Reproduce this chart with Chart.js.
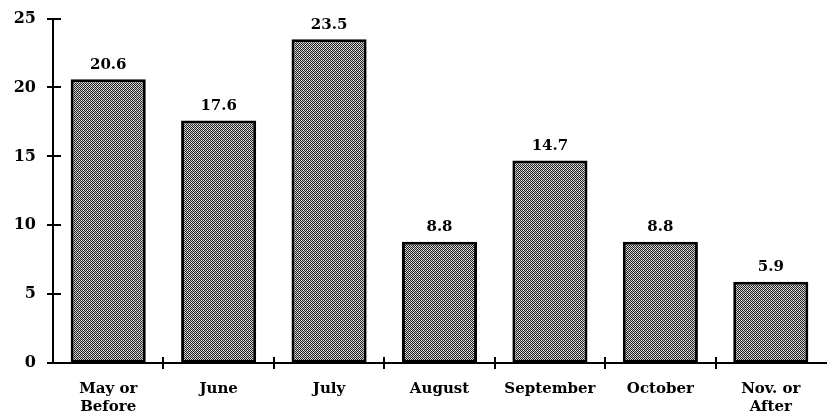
<!DOCTYPE html>
<html>
<head>
<meta charset="utf-8">
<script src="https://cdn.jsdelivr.net/npm/chart.js@4"></script>
<style>
  html, body { margin: 0; padding: 0; background: #fff; }
  #wrap { width: 835px; height: 418px; }
</style>
</head>
<body>
<div id="wrap"><canvas id="c"></canvas></div>
<script>
const categories = [['May or', 'Before'], 'June', 'July', 'August', 'September', 'October', ['Nov. or', 'After']];
const percents = [20.6, 17.6, 23.5, 8.8, 14.7, 8.8, 5.9];
const yTicks = [0, 5, 10, 15, 20, 25];

const FONT = '"DejaVu Serif", "Liberation Serif", serif';

// stipple pattern for the bars
function makePattern() {
  const p = document.createElement('canvas');
  p.width = 4; p.height = 4;
  const g = p.getContext('2d');
  g.fillStyle = '#222';
  g.fillRect(0, 0, 4, 4);
  g.fillStyle = '#c8c8c8';
  g.fillRect(1, 0, 1, 1);
  g.fillRect(3, 0, 1, 1);
  g.fillRect(0, 1, 1, 1);
  g.fillRect(2, 1, 1, 1);
  g.fillRect(1, 2, 1, 1);
  g.fillRect(3, 2, 1, 1);
  g.fillRect(0, 3, 1, 1);
  g.fillRect(2, 3, 1, 1);
  g.fillStyle = '#f4f4f4';
  g.fillRect(1, 0, 1, 1);
  g.fillRect(3, 2, 1, 1);
  return g.createPattern(p, 'repeat');
}

const ctx = document.getElementById('c').getContext('2d');
const stipple = makePattern();

// tick marks that cross the axis lines, and the value labels
const axisExtras = {
  id: 'axisExtras',
  afterDatasetsDraw(chart) {
    const c = chart.ctx;
    const x = chart.scales.x, y = chart.scales.y;
    c.save();
    c.strokeStyle = '#000';
    c.lineWidth = 2;
    yTicks.forEach(v => {
      const py = Math.round(y.getPixelForValue(v));
      c.beginPath(); c.moveTo(x.left - 6, py); c.lineTo(x.left + 8, py); c.stroke();
    });
    for (let i = 1; i < categories.length; i++) {
      const px = Math.round((x.getPixelForValue(i - 1) + x.getPixelForValue(i)) / 2);
      c.beginPath(); c.moveTo(px, y.bottom - 6); c.lineTo(px, y.bottom + 6); c.stroke();
    }
    c.fillStyle = '#000';
    c.font = 'bold 15px ' + FONT;
    c.textAlign = 'center';
    c.textBaseline = 'bottom';
    const meta = chart.getDatasetMeta(0);
    meta.data.forEach((bar, i) => {
      c.fillText(percents[i].toFixed(1), bar.x, bar.y - 7);
    });
    c.restore();
  }
};

new Chart(ctx, {
  type: 'bar',
  data: {
    labels: categories,
    datasets: [{
      data: percents,
      backgroundColor: stipple,
      borderColor: '#000',
      borderWidth: 3,
      borderSkipped: false,
      categoryPercentage: 0.68,
      barPercentage: 1.0
    }]
  },
  options: {
    responsive: true,
    maintainAspectRatio: false,
    animation: false,
    layout: { padding: { top: -3, right: 9, left: 0, bottom: 0 } },
    plugins: { legend: { display: false }, tooltip: { enabled: false } },
    scales: {
      x: {
        grid: { display: false },
        border: { display: true, color: '#000', width: 2 },
        ticks: {
          color: '#000',
          font: { family: FONT, size: 15, weight: 'bold' },
          padding: 9,
          maxRotation: 0,
          autoSkip: false
        },
        afterFit(s) { s.height = 55; }
      },
      y: {
        min: 0,
        max: 25,
        grid: { display: false },
        border: { display: true, color: '#000', width: 2 },
        ticks: {
          stepSize: 5,
          color: '#000',
          font: { family: FONT, size: 16, weight: 'bold' },
          padding: 9
        },
        afterFit(s) { s.width = 53; }
      }
    }
  },
  plugins: [axisExtras]
});
</script>
</body>
</html>
